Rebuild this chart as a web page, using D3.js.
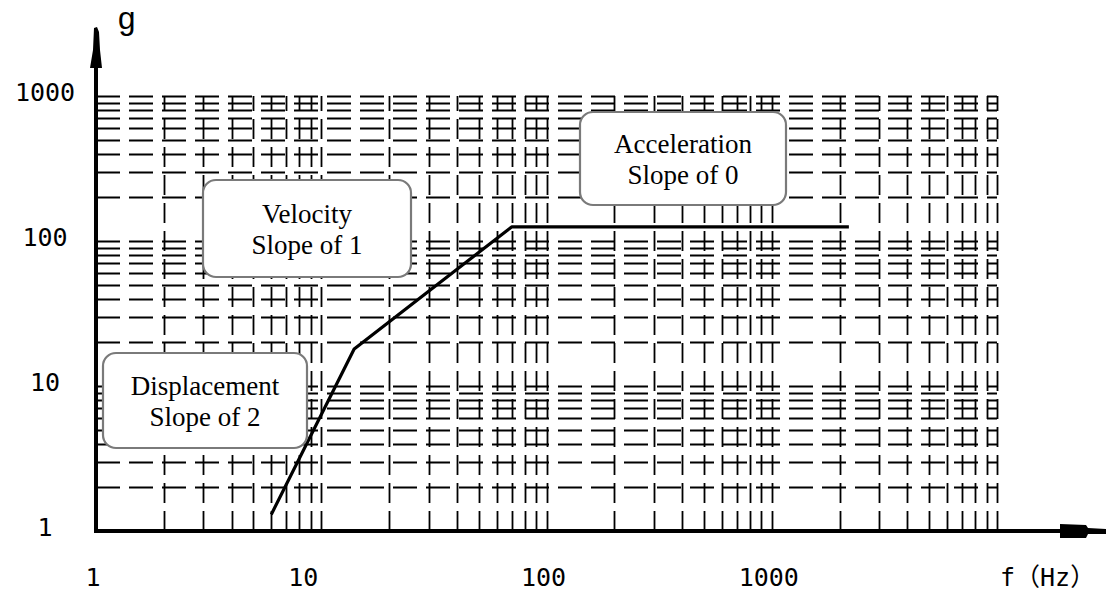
<!DOCTYPE html>
<html>
<head>
<meta charset="utf-8">
<script src="https://cdn.jsdelivr.net/npm/d3@7"></script>
<style>
  html, body { margin: 0; padding: 0; background: #fff; }
  svg { display: block; }
</style>
</head>
<body>
<svg id="chart" width="1107" height="597"></svg>
<script>
// Shock/vibration spectrum sketch on log-log graph paper.
const xTickValues = [1, 10, 100, 1000];
const xTickLabels = ["1", "10", "100", "1000"];
const yTickValues = [1, 10, 100, 1000];
const yTickLabels = ["1", "10", "100", "1000"];
const xDecades = [1, 10, 100, 1000];
const yDecades = [1, 10, 100];
const minorSteps = [1, 2, 3, 4, 5, 6, 7, 8, 9];

// spectrum line (f in Hz, g)
const specFreq = [6, 14, 70, 2200];
const specAccel = [1.3, 18, 125, 125];

const noteLines = [
  ["Velocity", "Slope of 1"],
  ["Acceleration", "Slope of 0"],
  ["Displacement", "Slope of 2"]
];
const xUnit = "f\uFF08Hz\uFF09";
const yUnit = "g";

// layout
const margin = { left: 96, right: 110, top: 96, bottom: 66 };
const W = 1107, H = 597;
const noteBoxes = [
  { x: 203, y: 180, w: 208, h: 97 },
  { x: 580, y: 112, w: 206, h: 93 },
  { x: 103, y: 353, w: 204, h: 95 }
];

const svg = d3.select("#chart");

const x = d3.scaleLog().domain([1, 10000]).range([margin.left, W - margin.right]);
const y = d3.scaleLog().domain([1, 1000]).range([H - margin.bottom, margin.top]);

const xGrid = xDecades.flatMap(d => minorSteps.map(s => s * d)).filter(v => v > 1).concat([10000]);
const yGrid = yDecades.flatMap(d => minorSteps.map(s => s * d)).filter(v => v > 1).concat([1000]);

const grid = svg.append("g")
  .attr("stroke", "#000")
  .attr("stroke-width", 1.8)
  .attr("fill", "none");

grid.selectAll("line.h")
  .data(yGrid)
  .join("line")
  .attr("class", "h")
  .attr("x1", x(1)).attr("x2", x(10000))
  .attr("y1", d => Math.round(y(d)) + 0.5).attr("y2", d => Math.round(y(d)) + 0.5)
  .attr("stroke-dasharray", "24,9");

grid.selectAll("line.v")
  .data(xGrid)
  .join("line")
  .attr("class", "v")
  .attr("y1", y(1)).attr("y2", y(1000))
  .attr("x1", d => Math.round(x(d)) + 0.5).attr("x2", d => Math.round(x(d)) + 0.5)
  .attr("stroke-dasharray", "20,8");

// spectrum
const line = d3.line().x((d, i) => x(specFreq[i])).y(d => y(d));
svg.append("path")
  .datum(specAccel)
  .attr("d", line)
  .attr("fill", "none")
  .attr("stroke", "#000")
  .attr("stroke-width", 3.2)
  .attr("stroke-linejoin", "round");

// axes
const x0 = x(1), y0 = y(1);
svg.append("line")
  .attr("x1", x0).attr("x2", 1062)
  .attr("y1", y0).attr("y2", y0)
  .attr("stroke", "#000").attr("stroke-width", 4);
svg.append("line")
  .attr("x1", x0).attr("x2", x0)
  .attr("y1", y0 + 2).attr("y2", 66)
  .attr("stroke", "#000").attr("stroke-width", 4);

// arrow heads
svg.append("path")
  .attr("d", `M${x0 - 6},68 L${x0 + 6},68 L${x0 + 4},50 L${x0 + 3},32 L${x0 + 1},27 L${x0 - 2},28 L${x0 - 3},50 Z`)
  .attr("fill", "#000");
svg.append("path")
  .attr("d", `M1060,${y0 - 7} L1086,${y0 - 6} L1088,${y0 - 3} L1106,${y0 - 2} L1106,${y0 + 3} L1088,${y0 + 3} L1086,${y0 + 7} L1060,${y0 + 7} Z`)
  .attr("fill", "#000");

// tick labels
const labelFont = "'DejaVu Sans Mono', 'Liberation Mono', monospace";
svg.append("g")
  .selectAll("text")
  .data(yTickValues)
  .join("text")
  .attr("x", 45)
  .attr("y", d => y(d) - 4)
  .attr("text-anchor", "middle")
  .attr("dominant-baseline", "central")
  .style("font", `25px ${labelFont}`)
  .text((d, i) => yTickLabels[i]);

svg.append("g")
  .selectAll("text")
  .data(xTickValues)
  .join("text")
  .attr("x", d => x(d) - (d === 10 ? 18 : 3))
  .attr("y", 577)
  .attr("text-anchor", "middle")
  .attr("dominant-baseline", "central")
  .style("font", `25px ${labelFont}`)
  .text((d, i) => xTickLabels[i]);

svg.append("text")
  .attr("x", 1000).attr("y", 577)
  .attr("dominant-baseline", "central")
  .style("font", `25px ${labelFont}, 'Noto Sans CJK SC'`)
  .text(xUnit);

svg.append("text")
  .attr("x", 117).attr("y", 29)
  .style("font", "32px 'Liberation Mono', monospace")
  .text(yUnit);

// annotation boxes
const notes = svg.append("g")
  .selectAll("g")
  .data(noteLines)
  .join("g")
  .attr("transform", (d, i) => `translate(${noteBoxes[i].x},${noteBoxes[i].y})`);

notes.append("rect")
  .attr("width", (d, i) => noteBoxes[i].w)
  .attr("height", (d, i) => noteBoxes[i].h)
  .attr("rx", 13)
  .attr("fill", "#fff")
  .attr("stroke", "#7a7a7a")
  .attr("stroke-width", 2.2);

notes.each(function(d, i) {
  const b = noteBoxes[i];
  d3.select(this).selectAll("text")
    .data(d)
    .join("text")
    .attr("x", b.w / 2)
    .attr("y", (t, j) => b.h / 2 - 15 + j * 31)
    .attr("text-anchor", "middle")
    .attr("dominant-baseline", "central")
    .style("font", "27px 'Liberation Serif', 'DejaVu Serif', serif")
    .text(t => t);
});
</script>
</body>
</html>
